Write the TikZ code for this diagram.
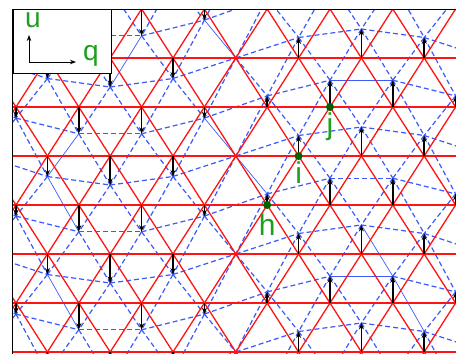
\documentclass[tikz,border=0pt]{standalone}
\usepackage{fontspec}
\setmainfont{Liberation Sans}
\usetikzlibrary{arrows.meta}

\definecolor{gridred}{RGB}{255,20,20}
\definecolor{shiftblue}{RGB}{60,90,250}
\definecolor{labelgreen}{RGB}{30,160,30}
\definecolor{dotgreen}{RGB}{0,100,0}

\tikzset{
  redline/.style={gridred, line width=1.3pt},
  bluedash/.style={shiftblue, line width=1.2pt, dash pattern=on 5pt off 3pt},
  bluethin/.style={shiftblue, line width=0.7pt},
  uarrow/.style={-{Stealth[length=6.5pt,width=5pt]}, line width=1.6pt},
  sitedot/.style={circle, fill=dotgreen, inner sep=0pt, minimum size=8pt},
  greenlabel/.style={text=labelgreen, inner sep=0pt},
}

% bonds of the shifted lattice that are drawn solid
\newcommand\solidbonds{,1-9:2-10,3-9:4-10,4-10:5-11,6-14:7-15,7-15:8-16,3-5:4-4,4-4:5-5,6-4:7-5,1-7:2-6,3-13:3-15,7-13:7-15,}
\makeatletter
\newcommand\bluebond[2]{%
  \edef\bondkey{,#1:#2,}%
  \edef\bondtest{\noexpand\in@{\bondkey}{\solidbonds}}\bondtest
  \ifin@\draw[bluethin] (b#1) -- (b#2);\else\draw[bluedash] (b#1) -- (b#2);\fi}
\makeatother

\begin{document}
\begin{tikzpicture}[x=1pt,y=-1pt]
\useasboundingbox (0,0) rectangle (456,354);

% lattice sites: r = rest position, b = shifted position
\foreach \i in {0,...,9}{
  \foreach \j in {0,...,21}{
    \pgfmathtruncatemacro\odd{mod(\i+\j,2)}
    \ifnum\odd=0
      \pgfmathsetmacro\du{29*sin(22.5*(\j-10))}
      \coordinate (r\i-\j) at ({-78.2+31.4*\j},{-40+49*\i});
      \coordinate (b\i-\j) at ({-78.2+31.4*\j},{-40+49*\i-\du});
    \fi
  }
}

\begin{scope}
\clip (12.5,9) rectangle (456,354);
% shifted lattice
\foreach \i in {0,...,9}{
  \foreach \j in {0,...,19}{
    \pgfmathtruncatemacro\odd{mod(\i+\j,2)}
    \ifnum\odd=0
      \pgfmathtruncatemacro\jr{\j+2}
      \bluebond{\i-\j}{\i-\jr}
      \ifnum\i<9
        \pgfmathtruncatemacro\ni{\i+1}
        \pgfmathtruncatemacro\jn{\j+1}
        \bluebond{\i-\j}{\ni-\jn}
        \ifnum\j>0
          \pgfmathtruncatemacro\jp{\j-1}
          \bluebond{\i-\j}{\ni-\jp}
        \fi
      \fi
    \fi
  }
}
% rest lattice
\foreach \i in {0,...,9}{
  \foreach \j in {0,...,19}{
    \pgfmathtruncatemacro\odd{mod(\i+\j,2)}
    \ifnum\odd=0
      \pgfmathtruncatemacro\jr{\j+2}
      \draw[redline] (r\i-\j) -- (r\i-\jr);
      \ifnum\i<9
        \pgfmathtruncatemacro\ni{\i+1}
        \pgfmathtruncatemacro\jn{\j+1}
        \draw[redline] (r\i-\j) -- (r\ni-\jn);
        \ifnum\j>0
          \pgfmathtruncatemacro\jp{\j-1}
          \draw[redline] (r\i-\j) -- (r\ni-\jp);
        \fi
      \fi
    \fi
  }
}
% displacements
\foreach \i in {1,...,8}{
  \foreach \j in {2,...,17}{
    \pgfmathtruncatemacro\odd{mod(\i+\j,2)}
    \pgfmathtruncatemacro\still{mod(\j+6,8)}
    \ifnum\odd=0
      \ifnum\still>0
        \draw[uarrow] (r\i-\j) -- (b\i-\j);
      \fi
    \fi
  }
}
\end{scope}

% axes frame
\coordinate (frame-b) at (12.5,354);
\coordinate (frame-c) at (12.5,9);
\coordinate (frame-r) at (456,9);
\draw[line width=0.9pt] (frame-b) -- (frame-c) -- (frame-r);

% legend
\node[draw, fill=white, line width=0.9pt, anchor=north west, minimum width=98.5pt,
  minimum height=64pt, inner sep=0pt] (legend) at (12.5,9) {};
\coordinate (origin) at (29,62);
\coordinate (u-tip) at (29,35);
\coordinate (q-tip) at (76,62);
\draw[-{Stealth[length=6pt,width=4.5pt]}, line width=1pt] (origin) -- (u-tip);
\draw[-{Stealth[length=6pt,width=4.5pt]}, line width=1pt] (origin) -- (q-tip);
\node[greenlabel, font=\fontsize{28}{28}\selectfont] (u-lbl) at (33,20) {u};
\node[greenlabel, font=\fontsize{28}{28}\selectfont] (q-lbl) at (91,56) {q};

% marked sites
\node[sitedot] (h) at (r5-11) {};
\node[sitedot] (i) at (r4-12) {};
\node[sitedot] (j) at (r3-13) {};
\node[greenlabel, font=\fontsize{30}{30}\selectfont, anchor=north] (h-lbl) at ([yshift=-9pt]h) {h};
\node[greenlabel, font=\fontsize{30}{30}\selectfont, anchor=north] (i-lbl) at ([yshift=-6pt]i) {i};
\node[greenlabel, font=\fontsize{30}{30}\selectfont, anchor=north] (j-lbl) at ([yshift=-6pt]j) {j};
\end{tikzpicture}
\end{document}
